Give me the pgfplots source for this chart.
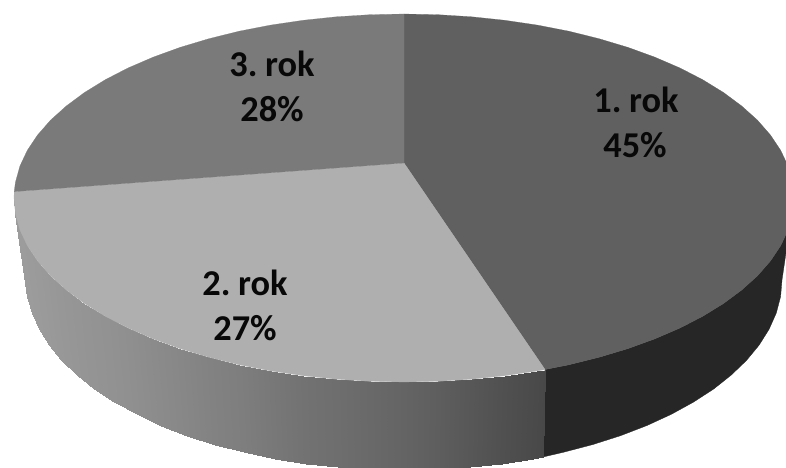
\documentclass[border=0pt]{standalone}
\usepackage{fontspec}
\setmainfont{Carlito}[WordSpace=0.6]
\usepackage{pgfplots}
\pgfplotsset{compat=1.18}
\definecolor{sliceA}{gray}{0.375}
\definecolor{sliceB}{gray}{0.686}
\definecolor{sliceC}{gray}{0.48}
\definecolor{wallA}{gray}{0.15}
\definecolor{labeltxt}{gray}{0.03}
\begin{document}
\begin{tikzpicture}
\begin{axis}[
    width=786bp, height=468bp,
    scale only axis,
    hide axis,
    xmin=0, xmax=786,
    ymin=0, ymax=468,
    y dir=reverse,
    colormap/blackwhite,
    point meta min=0, point meta max=255,
]
% outer wall, 1. rok
\addplot[fill=wallA, draw=wallA, line width=0.3pt] coordinates {
    (794,198) (792.5,214) (788.1,229.9) (780.7,245.6) (770.5,260.9) (757.5,275.8)
    (741.7,290) (723.5,303.5) (702.7,316.3) (679.8,328.1) (654.7,338.9) (627.7,348.7)
    (599,357.3) (568.8,364.8) (545,369.5)
    (543,457) (563.7,452.2) (593,444.5) (620.8,435.6) (647,425.5) (671.3,414.3)
    (693.5,402.1) (713.7,389) (731.3,375) (746.6,360.3) (759.2,345) (769.1,329.2)
    (776.3,313) (780.6,296.6) (782,280)
} -- cycle;
% outer wall, 2. rok: upper rim then lower rim, grey level in third column
\addplot[surf, shader=interp, mesh/cols=24, mesh/ordering=x varies, point meta=explicit]
  table[x=x, y=y, meta=c] {
x y c
545 369.5 72
537.4 370.9 74
504.9 375.7 80
471.7 379.2 87
438 381.3 94
404 382 100
370 381.3 105
336.3 379.2 110
303.1 375.7 114
270.6 370.9 120
239.2 364.8 126
209 357.3 130
180.3 348.7 135
153.3 338.9 139
128.2 328.1 143
105.3 316.3 146
84.5 303.5 148
66.3 290 150
50.5 275.8 152
37.5 260.9 154
27.3 245.6 155
19.9 229.9 156
15.5 214 156
14 198 156
543 457 72
533.3 458.5 74
501.8 463.5 80
469.6 467.1 87
437 469.3 94
404 470 100
371 469.3 105
338.4 467.1 110
306.2 463.5 114
274.7 458.5 120
244.3 452.2 126
215 444.5 130
187.2 435.6 135
161 425.5 139
136.7 414.3 143
114.5 402.1 146
94.3 389 148
76.7 375 150
61.4 360.3 152
48.8 345 154
38.9 329.2 155
31.7 313 156
27.4 296.6 156
26 280 156
};
% top faces
\addplot[fill=sliceA, draw=sliceA, line width=0.2pt] coordinates {
    (404,163) (404,14) (438,14.7) (471.7,16.8) (504.9,20.3) (537.4,25.1) (568.8,31.2)
    (599,38.7) (627.7,47.3) (654.7,57.1) (679.8,67.9) (702.7,79.7) (723.5,92.5)
    (741.7,106) (757.5,120.2) (770.5,135.1) (780.7,150.4) (788.1,166.1) (792.5,182)
    (794,198) (792.5,214) (788.1,229.9) (780.7,245.6) (770.5,260.9) (757.5,275.8)
    (741.7,290) (723.5,303.5) (702.7,316.3) (679.8,328.1) (654.7,338.9) (627.7,348.7)
    (599,357.3) (568.8,364.8) (545,369.5)
} -- cycle;
\addplot[fill=sliceB, draw=sliceB, line width=0.2pt] coordinates {
    (404,163) (545,369.5) (537.4,370.9) (504.9,375.7) (471.7,379.2) (438,381.3) (404,382)
    (370,381.3) (336.3,379.2) (303.1,375.7) (270.6,370.9) (239.2,364.8) (209,357.3)
    (180.3,348.7) (153.3,338.9) (128.2,328.1) (105.3,316.3) (84.5,303.5) (66.3,290)
    (50.5,275.8) (37.5,260.9) (27.3,245.6) (19.9,229.9) (15.5,214) (14,198) (14.2,191.6)
} -- cycle;
\addplot[fill=sliceC, draw=sliceC, line width=0.2pt] coordinates {
    (404,163) (14.2,191.6) (15.5,182) (19.9,166.1) (27.3,150.4) (37.5,135.1) (50.5,120.2)
    (66.3,106) (84.5,92.5) (105.3,79.7) (128.2,67.9) (153.3,57.1) (180.3,47.3) (209,38.7)
    (239.2,31.2) (270.6,25.1) (303.1,20.3) (336.3,16.8) (370,14.7) (404,14)
} -- cycle;
% labels
\tikzset{lab/.style={anchor=base, text=labeltxt, inner sep=0pt, font=\fontsize{36.5}{40}\selectfont\bfseries}}
\node[lab] at (axis cs:636,112) {1. rok};
\node[lab] at (axis cs:635,157) {45\%};
\node[lab] at (axis cs:245,295) {2. rok};
\node[lab] at (axis cs:245,340) {27\%};
\node[lab] at (axis cs:272,77) {3. rok};
\node[lab] at (axis cs:272,121) {28\%};
\end{axis}
% keep the whole canvas, the white margin above and left of the pie included
\path (current axis.south west) rectangle (current axis.north east);
\end{tikzpicture}
\end{document}
